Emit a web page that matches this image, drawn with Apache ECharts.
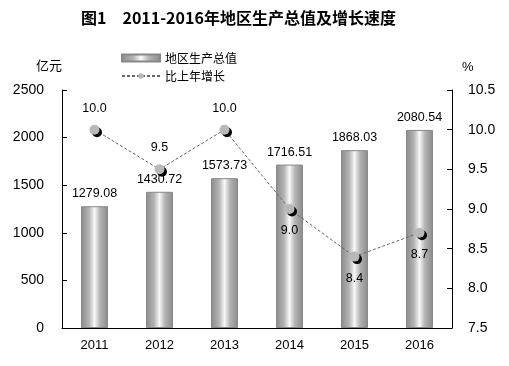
<!DOCTYPE html>
<html><head><meta charset="utf-8">
<script src="https://cdn.jsdelivr.net/npm/echarts@6/dist/echarts.min.js"></script>
<style>html,body{margin:0;padding:0;background:#fff}#c{width:509px;height:366px}</style>
</head><body><div id="c"></div>
<script>
const years = ['2011','2012','2013','2014','2015','2016'];
const gdp = [1279.08, 1430.72, 1573.73, 1716.51, 1868.03, 2080.54];
const growth = [10.0, 9.5, 10.0, 9.0, 8.4, 8.7];
const growthLabelPos = ['top','top','top','bottom','bottom','bottom'];

const font = 'Liberation Sans, Arial, sans-serif';
const cjk = 'Noto Sans CJK SC, sans-serif';
const barGrad = new echarts.graphic.LinearGradient(0,0,1,0,[
  {offset:0,color:'#8a8a8a'},{offset:0.3,color:'#b4b4b4'},{offset:0.5,color:'#f8f8f8'},
  {offset:0.7,color:'#b4b4b4'},{offset:1,color:'#8a8a8a'}]);

const chart = echarts.init(document.getElementById('c'));
chart.setOption({
  animation:false,
  title:{text:'图1　2011-2016年地区生产总值及增长速度',left:76,top:5,
    textStyle:{fontSize:16,fontWeight:'bold',color:'#000',fontFamily:cjk}},
  legend:{orient:'vertical',left:116,top:47,itemGap:6,itemWidth:38,itemHeight:7,
    textStyle:{fontSize:12,color:'#000',fontFamily:cjk},
    data:[{name:'地区生产总值',icon:'rect'},{name:'比上年增长'}]},
  grid:{left:62,right:57,top:90,bottom:38},
  xAxis:{type:'category',data:years,
    axisLine:{lineStyle:{color:'#000'}},
    axisTick:{inside:true,length:4,lineStyle:{color:'#000'}},
    axisLabel:{fontSize:13,color:'#000',fontFamily:font,margin:11}},
  yAxis:[{type:'value',min:0,max:2500,interval:500,name:'亿元',
      nameLocation:'end',nameGap:18,nameTextStyle:{fontSize:13,color:'#000',align:'right',fontFamily:cjk},
      splitLine:{show:false},
      axisLine:{show:true,lineStyle:{color:'#000'}},
      axisTick:{show:true,inside:true,length:5,lineStyle:{color:'#000'}},
      axisLabel:{fontSize:14,color:'#000',fontFamily:font,margin:18,formatter:v=>String(v)}},
    {type:'value',min:7.5,max:10.5,interval:0.5,name:'%',
      nameLocation:'end',nameGap:16,nameTextStyle:{fontSize:13,color:'#000',align:'left',padding:[0,0,0,10],fontFamily:font},
      splitLine:{show:false},
      axisLine:{show:true,lineStyle:{color:'#000'}},
      axisTick:{show:true,inside:true,length:5,lineStyle:{color:'#000'}},
      axisLabel:{fontSize:14,color:'#000',fontFamily:font,margin:16,formatter:v=>v.toFixed(1)}}],
  series:[
    {name:'地区生产总值',type:'bar',barWidth:27,data:gdp,
      itemStyle:{color:barGrad,borderColor:'#888',borderWidth:1},
      label:{show:true,position:'top',distance:6,fontSize:12.5,color:'#000',fontFamily:font,formatter:p=>p.value.toFixed(2)}},
    {name:'比上年增长',type:'line',yAxisIndex:1,symbol:'circle',symbolSize:10,
      data:growth.map((v,i)=>({value:v,label:{position:growthLabelPos[i]}})),
      lineStyle:{type:[3,2],color:'#666',width:1},
      itemStyle:{color:'#b8b8b8',borderWidth:0,shadowColor:'#000',shadowOffsetX:2.5,shadowOffsetY:2.5,shadowBlur:0},
      label:{show:true,distance:10,fontSize:12.5,color:'#000',fontFamily:font,formatter:p=>p.value.toFixed(1)}}
  ]
});
</script></body></html>
